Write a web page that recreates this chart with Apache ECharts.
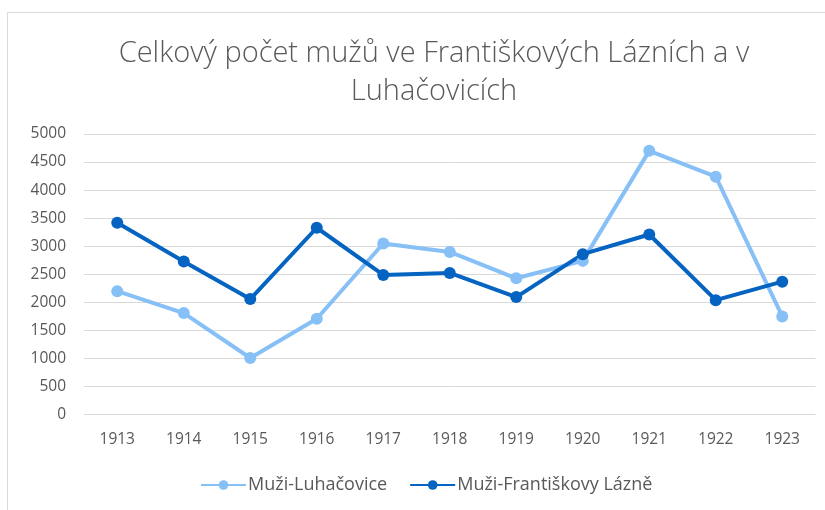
<!DOCTYPE html>
<html>
<head>
<meta charset="utf-8">
<script src="https://cdn.jsdelivr.net/npm/echarts@6/dist/echarts.min.js"></script>
<style>
  html, body { margin: 0; padding: 0; background: #fff; }
  #frame { position: absolute; left: 7px; top: 12px; width: 830px; height: 510px; border: 1px solid #d9d9d9; }
  #chart { position: absolute; left: 0; top: 0; width: 825px; height: 510px; }
</style>
</head>
<body>
<div id="frame"></div>
<div id="chart"></div>
<script>
const years = ['1913', '1914', '1915', '1916', '1917', '1918', '1919', '1920', '1921', '1922', '1923']
const luhacovice = [2200, 1810, 1010, 1710, 3050, 2900, 2430, 2740, 4700, 4240, 1750]
const frantiskovy = [3420, 2730, 2060, 3330, 2490, 2525, 2095, 2860, 3210, 2040, 2370]

const lightBlue = '#86C0F6'
const darkBlue = '#0563C1'
const textColor = '#595959'

const chart = echarts.init(document.getElementById('chart'))

chart.setOption({
  animation: false,
  title: {
    text: 'Celkový počet mužů ve Františkových Lázních a v\nLuhačovicích',
    left: 429,
    textAlign: 'center',
    top: 30,
    textStyle: {
      fontFamily: 'Open Sans',
      fontWeight: 300,
      fontSize: 29,
      lineHeight: 38,
      color: textColor
    }
  },
  legend: {
    bottom: 11,
    left: 195,
    itemWidth: 45,
    itemHeight: 12,
    itemGap: 22,
    textStyle: { fontFamily: 'Open Sans', fontSize: 18, color: textColor, padding: [0, 0, 0, -3] },
    data: ['Muži-Luhačovice', 'Muži-Františkovy Lázně']
  },
  grid: { left: 84, right: 9.5, top: 134, bottom: 95.3 },
  xAxis: {
    type: 'category',
    data: years,
    axisLine: { show: false },
    axisTick: { show: false },
    axisLabel: { fontFamily: 'Open Sans', fontSize: 15.5, color: textColor, margin: 17 }
  },
  yAxis: {
    type: 'value',
    min: 0,
    max: 5000,
    interval: 500,
    axisLine: { show: false },
    axisTick: { show: false },
    axisLabel: { fontFamily: 'Open Sans', fontSize: 15.5, color: textColor, margin: 18, formatter: v => String(v) },
    splitLine: { lineStyle: { color: '#d9d9d9', width: 1 } }
  },
  series: [
    {
      name: 'Muži-Luhačovice',
      type: 'line',
      data: luhacovice,
      symbol: 'circle',
      symbolSize: 12,
      lineStyle: { color: lightBlue, width: 4 },
      itemStyle: { color: lightBlue }
    },
    {
      name: 'Muži-Františkovy Lázně',
      type: 'line',
      data: frantiskovy,
      symbol: 'circle',
      symbolSize: 12,
      lineStyle: { color: darkBlue, width: 4 },
      itemStyle: { color: darkBlue }
    }
  ]
})
</script>
</body>
</html>
